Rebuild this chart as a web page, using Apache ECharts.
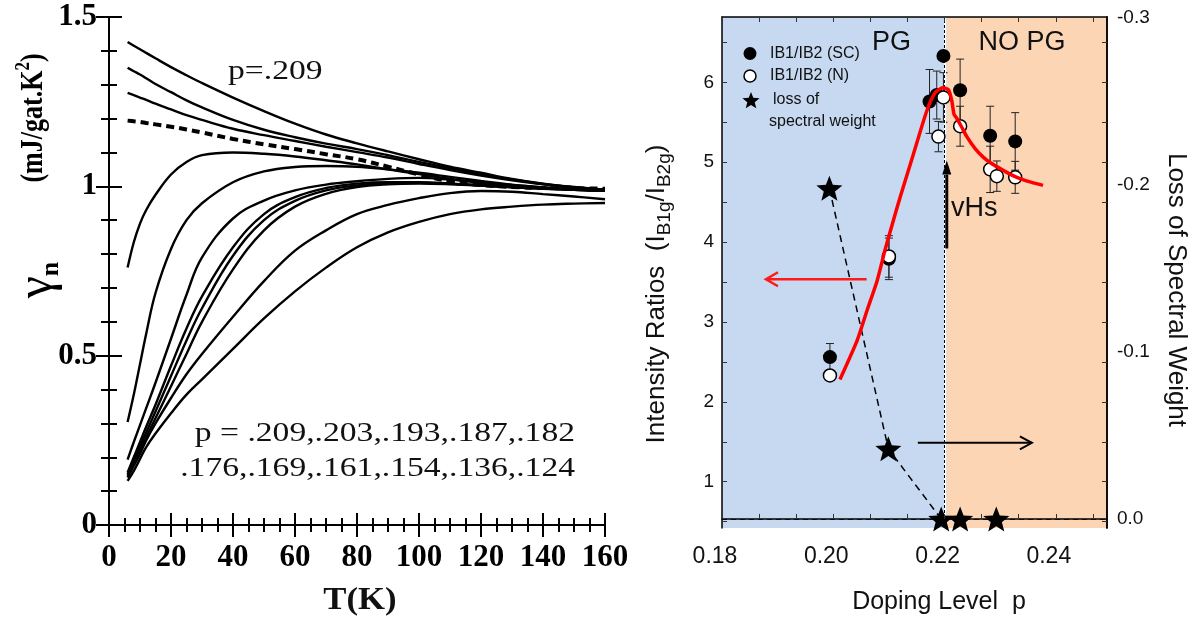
<!DOCTYPE html>
<html>
<head>
<meta charset="utf-8">
<title>gamma_n(T) and intensity ratios vs doping</title>
<script src="https://cdn.jsdelivr.net/npm/echarts@6.0.0/dist/echarts.min.js"></script>
<style>
  html, body { margin: 0; padding: 0; background: #fff; }
  #chart { width: 1200px; height: 623px; }
</style>
</head>
<body>
<div id="chart"></div>
<script>
// ---- left panel: gamma_n versus T ----
const tGrid = [6, 8, 10, 12, 15, 20, 25, 30, 40, 50, 60, 70, 80, 90, 100, 110, 120, 130, 140, 150, 160]
const gammaA = [1.426, 1.415, 1.405, 1.394, 1.378, 1.352, 1.328, 1.305, 1.262, 1.222, 1.185, 1.153, 1.127, 1.103, 1.080, 1.058, 1.040, 1.022, 1.008, 0.998, 0.990]
const gammaB = [1.350, 1.340, 1.330, 1.319, 1.302, 1.278, 1.254, 1.233, 1.196, 1.167, 1.145, 1.126, 1.110, 1.092, 1.072, 1.053, 1.036, 1.020, 1.007, 0.997, 0.990]
const gammaC = [1.276, 1.269, 1.262, 1.255, 1.244, 1.227, 1.210, 1.196, 1.170, 1.151, 1.134, 1.117, 1.101, 1.085, 1.066, 1.048, 1.032, 1.018, 1.006, 0.997, 0.990]
const gammaDashed = [1.194, 1.192, 1.190, 1.187, 1.183, 1.176, 1.168, 1.159, 1.140, 1.124, 1.110, 1.095, 1.080, 1.058, 1.035, 1.015, 1.004, 0.998, 0.995, 0.994, 0.993]
const gammaE = [0.760, 0.835, 0.890, 0.930, 0.975, 1.035, 1.072, 1.092, 1.100, 1.096, 1.088, 1.077, 1.065, 1.050, 1.036, 1.022, 1.010, 1.001, 0.995, 0.990, 0.987]
const gammaF = [0.304, 0.385, 0.475, 0.565, 0.685, 0.815, 0.900, 0.950, 1.012, 1.044, 1.057, 1.060, 1.058, 1.050, 1.040, 1.028, 1.016, 1.005, 0.997, 0.991, 0.987]
const gammaG = [0.193, 0.245, 0.295, 0.345, 0.420, 0.550, 0.680, 0.790, 0.905, 0.958, 0.988, 1.005, 1.015, 1.022, 1.025, 1.020, 1.012, 1.004, 0.997, 0.991, 0.987]
const gammaH = [0.155, 0.200, 0.245, 0.290, 0.355, 0.470, 0.580, 0.675, 0.820, 0.918, 0.968, 0.995, 1.008, 1.012, 1.012, 1.008, 1.003, 0.998, 0.994, 0.990, 0.987]
const gammaI = [0.150, 0.190, 0.232, 0.273, 0.335, 0.440, 0.545, 0.640, 0.795, 0.900, 0.957, 0.988, 1.003, 1.010, 1.011, 1.008, 1.003, 0.998, 0.994, 0.990, 0.987]
const gammaJ = [0.145, 0.183, 0.222, 0.260, 0.315, 0.410, 0.505, 0.600, 0.755, 0.870, 0.940, 0.978, 0.998, 1.006, 1.008, 1.006, 1.002, 0.997, 0.993, 0.990, 0.987]
const gammaK = [0.140, 0.175, 0.210, 0.250, 0.300, 0.375, 0.445, 0.505, 0.615, 0.720, 0.810, 0.870, 0.918, 0.945, 0.965, 0.980, 0.986, 0.984, 0.977, 0.970, 0.962]
const gammaL = [0.130, 0.160, 0.195, 0.230, 0.270, 0.330, 0.385, 0.430, 0.520, 0.610, 0.690, 0.760, 0.820, 0.864, 0.895, 0.918, 0.932, 0.940, 0.946, 0.949, 0.951]
const solidCurves = [gammaA, gammaB, gammaC, gammaE, gammaF, gammaG, gammaH, gammaI, gammaJ, gammaK, gammaL]

// ---- right panel: intensity ratios versus doping ----
const scP = [0.1994, 0.2100, 0.2173, 0.2186, 0.2198, 0.2228, 0.2282, 0.2327]
const scV = [2.56, 3.79, 5.76, 5.84, 6.33, 5.90, 5.33, 5.26]
const scErr = [0.17, 0.26, 0.40, 0.30, 0, 0.39, 0.37, 0.36]
const nP = [0.1994, 0.2100, 0.2189, 0.2198, 0.2228, 0.2282, 0.2294, 0.2327]
const nV = [2.33, 3.82, 5.32, 5.81, 5.45, 4.91, 4.825, 4.81]
const nErr = [0, 0.26, 0.19, 0.31, 0.25, 0.29, 0.19, 0.20]
const lossP = [0.1993, 0.2099, 0.2194, 0.2228, 0.2293]
const lossV = [-0.198, -0.042, 0, 0, 0]
const theoryP = [0.2012, 0.2043, 0.2061, 0.2079, 0.2093, 0.2108, 0.2121, 0.2144, 0.2168, 0.2183, 0.2197, 0.2207, 0.2213, 0.2217, 0.2222, 0.2230, 0.2240, 0.2255, 0.2270, 0.2285, 0.2300, 0.2315, 0.2330, 0.2350, 0.2377]
const theoryV = [2.28, 2.77, 3.15, 3.52, 3.90, 4.27, 4.58, 5.10, 5.64, 5.87, 5.93, 5.905, 5.77, 5.60, 5.55, 5.45, 5.32, 5.17, 5.06, 4.98, 4.92, 4.86, 4.81, 4.76, 4.71]
const vhsP = 0.2204
const pRange = [0.18, 0.2492]
const ratioRange = [0.421, 6.817]
const lossRange = [-0.3006, 0.0054]
const pTickLabels = [0.18, 0.20, 0.22, 0.24]
const ratioTickLabels = [1, 2, 3, 4, 5, 6]
const lossTickLabels = [-0.3, -0.2, -0.1, 0.0]
const redArrow = [0.2060, 3.534, 0.1879, 3.534]
const blackArrow = [0.2152, 1.4875, 0.2357, 1.4875]
const vhsArrow = [vhsP, 3.92, vhsP, 5.02]

const serif = "'Liberation Serif', 'Times New Roman', serif"
const sans = "'Liberation Sans', Arial, sans-serif"
const narrow = "'Liberation Sans Narrow', 'Liberation Sans', Arial, sans-serif"

// minor ticks every third of a labelled step
const pTicks = []
for (let i = 0; i < pTickLabels.length; i++) {
  for (let k = 0; k < 3; k++) {
    const v = pTickLabels[i] + k * 0.02 / 3
    if (v < pRange[1]) pTicks.push(v)
  }
}
const ratioTicks = []
ratioTickLabels.forEach((v) => {
  ratioTicks.push(v - 0.5, v)
})
ratioTicks.push(6.5)

function starPoints(cx, cy, R, r) {
  const pts = []
  for (let i = 0; i < 10; i++) {
    const a = -Math.PI / 2 + i * Math.PI / 5
    const rad = i % 2 === 0 ? R : r
    pts.push([cx + rad * Math.cos(a), cy + rad * Math.sin(a)])
  }
  return pts
}
const starPath = 'path://' + starPoints(0, 0, 10, 4.3).map((p, i) => (i ? 'L' : 'M') + p[0].toFixed(2) + ',' + p[1].toFixed(2)).join(' ') + ' Z'

function errorBars(params, api) {
  const x = api.value(0)
  const y = api.value(1)
  const e = api.value(2)
  if (!e) return
  const top = api.coord([x, y + e])
  const bot = api.coord([x, y - e])
  const st = { stroke: '#222', lineWidth: 1 }
  return {
    type: 'group',
    children: [
      { type: 'line', shape: { x1: top[0], y1: top[1], x2: bot[0], y2: bot[1] }, style: st },
      { type: 'line', shape: { x1: top[0] - 4, y1: top[1], x2: top[0] + 4, y2: top[1] }, style: st },
      { type: 'line', shape: { x1: bot[0] - 4, y1: bot[1], x2: bot[0] + 4, y2: bot[1] }, style: st },
    ],
  }
}

function arrowItem(open, color, width, len, half) {
  return function (params, api) {
    const a = api.coord([api.value(0), api.value(1)])
    const b = api.coord([api.value(2), api.value(3)])
    const d = Math.hypot(b[0] - a[0], b[1] - a[1])
    const ux = (b[0] - a[0]) / d
    const uy = (b[1] - a[1]) / d
    const bx = b[0] - ux * len
    const by = b[1] - uy * len
    const l = [bx - uy * half, by + ux * half]
    const r = [bx + uy * half, by - ux * half]
    const children = []
    if (open) {
      children.push({ type: 'line', shape: { x1: a[0], y1: a[1], x2: b[0], y2: b[1] }, style: { stroke: color, lineWidth: width } })
      children.push({ type: 'polyline', shape: { points: [l, b, r] }, style: { stroke: color, lineWidth: width, fill: null } })
    } else {
      children.push({ type: 'line', shape: { x1: a[0], y1: a[1], x2: bx, y2: by }, style: { stroke: color, lineWidth: width } })
      children.push({ type: 'polygon', shape: { points: [l, b, r] }, style: { fill: color } })
    }
    return { type: 'group', children: children }
  }
}

function label(x, y, text, font, align, extra) {
  return Object.assign({
    type: 'text', x: x, y: y, z: 20,
    style: { text: text, font: font, fill: '#111', align: align, verticalAlign: 'middle', textAlign: align, textVerticalAlign: 'middle' },
  }, extra || {})
}

const chart = echarts.init(document.getElementById('chart'))

const leftX = {
  type: 'value', gridIndex: 0, min: 0, max: 160, interval: 20,
  axisLine: { lineStyle: { color: '#000', width: 2 } },
  axisTick: { inside: true, length: 12, lineStyle: { color: '#000', width: 2 } },
  minorTick: { show: true, splitNumber: 4, length: 7, lineStyle: { color: '#000', width: 2 } },
  splitLine: { show: false },
}
const leftY = {
  type: 'value', gridIndex: 0, min: 0, max: 1.5, interval: 0.5,
  axisLine: { show: true, lineStyle: { color: '#000', width: 2 } },
  axisTick: { show: true, inside: true, length: 13, lineStyle: { color: '#000', width: 2 } },
  minorTick: { show: true, splitNumber: 5, length: 8, lineStyle: { color: '#000', width: 2 } },
  splitLine: { show: false },
}
const tickFontL = { color: '#000', fontFamily: serif, fontWeight: 'bold', fontSize: 31 }

const rightAxisBase = {
  type: 'value', z: 10,
  axisLine: { show: true, lineStyle: { color: '#000', width: 1.5 } },
  splitLine: { show: false },
}

const option = {
  animation: false,
  backgroundColor: '#fff',
  grid: [
    { left: 109, top: 17, width: 496, height: 508 },
    { left: 722, top: 17, width: 385, height: 511 },
  ],
  xAxis: [
    Object.assign({}, leftX, {
      position: 'bottom',
      axisLabel: Object.assign({ margin: 17 }, tickFontL),
    }),
    Object.assign({}, leftX, { position: 'top', axisLabel: { show: false } }),
    Object.assign({}, rightAxisBase, {
      gridIndex: 1, position: 'bottom', min: pRange[0], max: pRange[1],
      axisTick: { inside: true, length: 5, customValues: pTicks, lineStyle: { color: '#333', width: 1 } },
      axisLabel: {
        customValues: pTickLabels, margin: 17, color: '#111', fontFamily: sans, fontSize: 23,
        padding: [0, 14, 0, 0],
        formatter: (v) => v.toFixed(2),
      },
    }),
    Object.assign({}, rightAxisBase, {
      gridIndex: 1, position: 'top', min: pRange[0], max: pRange[1],
      axisTick: { inside: true, length: 5, customValues: pTicks, lineStyle: { color: '#333', width: 1 } },
      axisLabel: { show: false },
    }),
  ],
  yAxis: [
    Object.assign({}, leftY, {
      position: 'left',
      axisLabel: Object.assign({ margin: 12 }, tickFontL),
    }),
    Object.assign({}, leftY, { position: 'right', axisLabel: { show: false } }),
    Object.assign({}, rightAxisBase, {
      gridIndex: 1, position: 'left', min: ratioRange[0], max: ratioRange[1],
      axisTick: { show: true, inside: true, length: 5, customValues: ratioTicks, lineStyle: { color: '#333', width: 1 } },
      axisLabel: { customValues: ratioTickLabels, margin: 8, color: '#111', fontFamily: sans, fontSize: 19 },
    }),
    Object.assign({}, rightAxisBase, {
      gridIndex: 1, position: 'right', inverse: true, min: lossRange[0], max: lossRange[1],
      axisTick: { show: false },
      axisLabel: {
        customValues: lossTickLabels, margin: 10, color: '#111', fontFamily: sans, fontSize: 19,
        formatter: (v) => v.toFixed(1),
      },
    }),
    Object.assign({}, rightAxisBase, {
      gridIndex: 1, position: 'right', min: ratioRange[0], max: ratioRange[1],
      axisTick: { show: true, inside: true, length: 5, customValues: ratioTicks, lineStyle: { color: '#333', width: 1 } },
      axisLabel: { show: false },
    }),
  ],
  graphic: [
    // left panel titles and annotations
    {
      type: 'text', x: 34, y: 118, rotation: Math.PI / 2, scaleY: 1.25,
      style: {
        text: '{m|(mJ/gat.K}{s|2}{m|)}', align: 'center', verticalAlign: 'middle',
        textAlign: 'center', textVerticalAlign: 'middle',
        rich: {
          m: { fontFamily: serif, fontWeight: 'bold', fontSize: 26, lineHeight: 34, fill: '#000' },
          s: { fontFamily: serif, fontWeight: 'bold', fontSize: 17, lineHeight: 17, verticalAlign: 'top', fill: '#000' },
        },
      },
    },
    {
      type: 'text', x: 38, y: 280, rotation: Math.PI / 2,
      style: {
        text: '{g|γ}{n|n}', align: 'center', verticalAlign: 'middle',
        textAlign: 'center', textVerticalAlign: 'middle',
        rich: {
          g: { fontFamily: serif, fontSize: 50, lineHeight: 52, fill: '#000' },
          n: { fontFamily: serif, fontWeight: 'bold', fontSize: 26, lineHeight: 26, verticalAlign: 'bottom', fill: '#000' },
        },
      },
    },
    label(360, 601, 'T(K)', 'bold 31px ' + serif, 'center', { scaleX: 1.12 }),
    label(228, 72, 'p=.209', '28px ' + serif, 'left', { scaleX: 1.2 }),
    label(575, 434, 'p = .209,.203,.193,.187,.182', '28px ' + serif, 'right', { scaleX: 1.2 }),
    label(575, 469, '.176,.169,.161,.154,.136,.124', '28px ' + serif, 'right', { scaleX: 1.2 }),
    // right panel titles
    {
      type: 'text', x: 657, y: 294, rotation: Math.PI / 2,
      style: {
        text: '{m|Intensity Ratios  (I}{s|B1g}{m|/I}{s|B2g}{m|)}', align: 'center', verticalAlign: 'middle',
        textAlign: 'center', textVerticalAlign: 'middle',
        rich: {
          m: { fontFamily: sans, fontSize: 26, lineHeight: 34, fill: '#111' },
          s: { fontFamily: sans, fontSize: 19, lineHeight: 19, verticalAlign: 'bottom', fill: '#111' },
        },
      },
    },
    label(1176, 290, 'Loss of Spectral Weight', '26px ' + sans, 'center', { rotation: -Math.PI / 2 }),
    label(939, 602, 'Doping Level  p', '25px ' + sans, 'center'),
    label(872, 43, 'PG', '27px ' + narrow, 'left'),
    label(1022, 43, 'NO PG', '27px ' + narrow, 'center'),
    label(951, 209, 'vHs', '27px ' + narrow, 'left'),
    // legend
    { type: 'circle', z: 20, shape: { cx: 750, cy: 53.5, r: 6.5 }, style: { fill: '#000' } },
    { type: 'circle', z: 20, shape: { cx: 750, cy: 76, r: 6 }, style: { fill: '#fff', stroke: '#000', lineWidth: 1.5 } },
    { type: 'polygon', z: 20, shape: { points: starPoints(751, 101, 9, 3.9) }, style: { fill: '#000' } },
    label(770, 53.5, 'IB1/IB2 (SC)', '16px ' + sans, 'left'),
    label(770, 76, 'IB1/IB2 (N)', '16px ' + sans, 'left'),
    label(773, 100, 'loss of', '16px ' + sans, 'left'),
    label(769, 122, 'spectral weight', '16px ' + sans, 'left'),
  ],
  series: [],
}

// left panel curves
solidCurves.forEach((c) => {
  option.series.push({
    type: 'line', xAxisIndex: 0, yAxisIndex: 0, silent: true,
    data: tGrid.map((t, j) => [t, c[j]]),
    smooth: 0.4, showSymbol: false,
    lineStyle: { color: '#000', width: 2.4 },
  })
})
option.series.push({
  type: 'line', xAxisIndex: 0, yAxisIndex: 0, silent: true,
  data: tGrid.map((t, j) => [t, gammaDashed[j]]),
  smooth: 0.4, showSymbol: false,
  lineStyle: { color: '#000', width: 4, type: [8, 5] },
})

// right panel: background regions and reference lines
option.series.push({
  type: 'line', xAxisIndex: 2, yAxisIndex: 2, data: [], z: 1, silent: true,
  markArea: {
    silent: true,
    data: [
      [{ xAxis: pRange[0], itemStyle: { color: '#c6d9f1' } }, { xAxis: vhsP }],
      [{ xAxis: vhsP, itemStyle: { color: '#fcd5b5' } }, { xAxis: pRange[1] }],
    ],
  },
  markLine: {
    silent: true, symbol: 'none', label: { show: false },
    data: [
      { xAxis: vhsP, lineStyle: { color: '#fff', width: 2, type: 'solid' } },
      { xAxis: vhsP, lineStyle: { color: '#000', width: 1, type: [3, 2] } },
    ],
  },
})
option.series.push({
  type: 'line', xAxisIndex: 2, yAxisIndex: 3, data: [], z: 2, silent: true,
  markLine: {
    silent: true, symbol: 'none', label: { show: false },
    data: [{ yAxis: 0, lineStyle: { color: '#333', width: 1, type: [5, 4] } }],
  },
})
// loss of spectral weight
option.series.push({
  type: 'line', xAxisIndex: 2, yAxisIndex: 3, z: 3, silent: true,
  data: lossP.slice(0, 3).map((p, i) => [p, lossV[i]]),
  showSymbol: false,
  lineStyle: { color: '#000', width: 1.5, type: [7, 5] },
})
option.series.push({
  type: 'scatter', xAxisIndex: 2, yAxisIndex: 3, z: 6, silent: true,
  data: lossP.map((p, i) => [p, lossV[i]]),
  symbol: starPath, symbolSize: [26, 25],
  itemStyle: { color: '#000', opacity: 1 },
})
// error bars, then ratios
option.series.push({
  type: 'custom', xAxisIndex: 2, yAxisIndex: 2, z: 4, silent: true,
  data: scP.map((p, i) => [p, scV[i], scErr[i]]),
  renderItem: errorBars,
})
option.series.push({
  type: 'custom', xAxisIndex: 2, yAxisIndex: 2, z: 4, silent: true,
  data: nP.map((p, i) => [p, nV[i], nErr[i]]),
  renderItem: errorBars,
})
option.series.push({
  type: 'scatter', xAxisIndex: 2, yAxisIndex: 2, z: 5, silent: true,
  data: scP.map((p, i) => [p, scV[i]]),
  symbol: 'circle', symbolSize: 14,
  itemStyle: { color: '#000', opacity: 1 },
})
option.series.push({
  type: 'scatter', xAxisIndex: 2, yAxisIndex: 2, z: 5, silent: true,
  data: nP.map((p, i) => [p, nV[i]]),
  symbol: 'circle', symbolSize: 13,
  itemStyle: { color: '#fff', borderColor: '#000', borderWidth: 1.5, opacity: 1 },
})
option.series.push({
  type: 'line', xAxisIndex: 2, yAxisIndex: 2, z: 7, silent: true,
  data: theoryP.map((p, i) => [p, theoryV[i]]),
  smooth: 0.2, showSymbol: false,
  lineStyle: { color: '#ff0000', width: 3.5 },
})
// arrows
option.series.push({
  type: 'custom', xAxisIndex: 2, yAxisIndex: 2, z: 8, silent: true,
  data: [redArrow], renderItem: arrowItem(true, '#ff1a1a', 2.5, 12, 7),
})
option.series.push({
  type: 'custom', xAxisIndex: 2, yAxisIndex: 2, z: 8, silent: true,
  data: [blackArrow], renderItem: arrowItem(true, '#000', 2, 12, 6.5),
})
option.series.push({
  type: 'custom', xAxisIndex: 2, yAxisIndex: 2, z: 8, silent: true,
  data: [vhsArrow], renderItem: arrowItem(false, '#000', 3, 14, 4.5),
})

chart.setOption(option)
</script>
</body>
</html>
